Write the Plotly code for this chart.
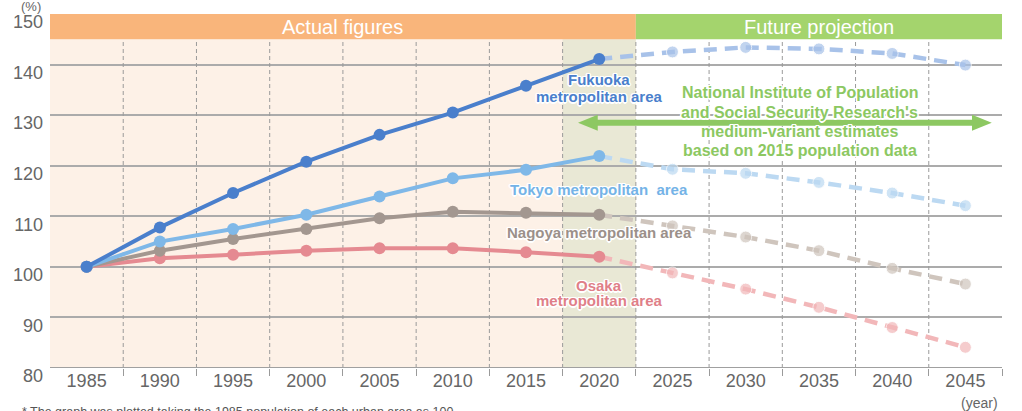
import plotly.graph_objects as go

# Population index by metropolitan area (1985 = 100)
years = [1985, 1990, 1995, 2000, 2005, 2010, 2015, 2020, 2025, 2030, 2035, 2040, 2045]
actual_years = years[:8]          # 1985-2020 census figures
future_years = years[7:]          # 2020-2045 projection (starts at last actual point)

fukuoka = [100.0, 107.8, 114.6, 120.8, 126.1, 130.5, 135.8, 141.1, 142.5, 143.4, 143.1, 142.2, 139.9]
tokyo = [100.0, 105.0, 107.5, 110.3, 113.9, 117.5, 119.2, 121.9, 119.3, 118.5, 116.7, 114.6, 112.1]
nagoya = [100.0, 103.2, 105.5, 107.5, 109.6, 110.9, 110.7, 110.3, 108.1, 105.9, 103.2, 99.7, 96.6]
osaka = [100.0, 101.7, 102.4, 103.2, 103.7, 103.7, 102.9, 102.0, 98.8, 95.6, 92.0, 88.0, 84.1]

y_ticks = [80, 90, 100, 110, 120, 130, 140, 150]

series = [
    # name, values, solid colour, projection colour
    ("Osaka", osaka, "#e58a91", "#f2b7b9"),
    ("Nagoya", nagoya, "#a39790", "#cfc5bd"),
    ("Tokyo", tokyo, "#7fb8e8", "#bcd9f2"),
    ("Fukuoka", fukuoka, "#4a7fcc", "#a8c2e9"),
]

FONT = "Arial, Liberation Sans, sans-serif"
X0, X1 = years[0] - 2.5, years[-1] + 2.5
X_SPLIT = 2022.5
BAND_LO = 145

fig = go.Figure()

# Projection segments (dashed, pale) go underneath the actual-figure lines
for name, vals, c_solid, c_proj in series:
    proj = vals[7:]
    fig.add_trace(go.Scatter(
        x=future_years, y=proj, mode="lines+markers",
        line=dict(color=c_proj, width=4.5, dash="13px,8px"),
        marker=dict(color=c_proj, size=[0] + [12] * (len(proj) - 1)),
        showlegend=False, hoverinfo="skip"))

for name, vals, c_solid, c_proj in series:
    fig.add_trace(go.Scatter(
        x=actual_years, y=vals[:8], mode="lines+markers",
        line=dict(color=c_solid, width=4),
        marker=dict(color=c_solid, size=12),
        showlegend=False, name=name))

shapes = []
# shaded backgrounds
shapes.append(dict(type="rect", xref="x", yref="y", x0=X0, x1=X_SPLIT, y0=80, y1=BAND_LO,
                   fillcolor="#fdf1e7", line_width=0, layer="below"))
shapes.append(dict(type="rect", xref="x", yref="y", x0=2017.5, x1=X_SPLIT, y0=80, y1=BAND_LO,
                   fillcolor="#e9e8d5", line_width=0, layer="below"))
# header bands
shapes.append(dict(type="rect", xref="x", yref="y", x0=X0, x1=X_SPLIT, y0=BAND_LO, y1=150,
                   fillcolor="#f9b57b", line_width=0, layer="below"))
shapes.append(dict(type="rect", xref="x", yref="y", x0=X_SPLIT, x1=X1, y0=BAND_LO, y1=150,
                   fillcolor="#a4d46d", line_width=0, layer="below"))
# dashed separators between years
for b in [y + 2.5 for y in years[:-1]]:
    shapes.append(dict(type="line", xref="x", yref="y", x0=b, x1=b, y0=80, y1=BAND_LO,
                       line=dict(color="#9a9a9a", width=1, dash="4px,3px"), layer="between"))

# green double-headed arrow for the projection note
ARROW_Y = 128.5
ax0, ax1 = 2018.55, 2046.8
head_len, head_half = 1.35, 1.6
shapes.append(dict(type="line", xref="x", yref="y", x0=ax0 + head_len * 0.6, x1=ax1 - head_len * 0.6,
                   y0=ARROW_Y, y1=ARROW_Y, line=dict(color="#8dc862", width=6), layer="above"))
shapes.append(dict(type="path", xref="x", yref="y",
                   path=f"M {ax0} {ARROW_Y} L {ax0 + head_len} {ARROW_Y + head_half} L {ax0 + head_len} {ARROW_Y - head_half} Z",
                   fillcolor="#8dc862", line_width=0, layer="above"))
shapes.append(dict(type="path", xref="x", yref="y",
                   path=f"M {ax1} {ARROW_Y} L {ax1 - head_len} {ARROW_Y + head_half} L {ax1 - head_len} {ARROW_Y - head_half} Z",
                   fillcolor="#8dc862", line_width=0, layer="above"))

HALO = ("1px 1px 0 #fff, -1px -1px 0 #fff, 1px -1px 0 #fff, -1px 1px 0 #fff, "
        "0 1.5px 0 #fff, 0 -1.5px 0 #fff, 1.5px 0 0 #fff, -1.5px 0 0 #fff")

annotations = []


def label(text, x, y, color, size=15, bold=True, shadow=HALO):
    annotations.append(dict(
        text=f"<b>{text}</b>" if bold else text, x=x, y=y, xref="x", yref="y",
        showarrow=False, xanchor="center", yanchor="middle",
        font=dict(family=FONT, size=size, color=color, shadow=shadow)))


label("Actual figures", (X0 + X_SPLIT) / 2, 147.5, "#ffffff", size=20, bold=False, shadow="none")
label("Future projection", (X_SPLIT + X1) / 2, 147.5, "#ffffff", size=20, bold=False, shadow="none")

label("Fukuoka", 2020, 137.0, "#4a7fcc")
label("metropolitan area", 2020, 133.6, "#4a7fcc")
label("Tokyo metropolitan  area", 2020, 115.2, "#74b3e7")
label("Nagoya metropolitan area", 2020, 106.7, "#9b908a")
label("Osaka", 2020, 96.4, "#e07f88")
label("metropolitan area", 2020, 93.3, "#e07f88")

note = ["National Institute of Population", "and Social Security Research's",
        "medium-variant estimates", "based on 2015 population data"]
for line, yy in zip(note, [134.4, 130.5, 126.7, 123.1]):
    label(line, 2033.7, yy, "#8cc862", size=16)

annotations.append(dict(text="(%)", x=-0.007, y=1.022, xref="paper", yref="paper",
                        showarrow=False, xanchor="right", yanchor="middle",
                        font=dict(family=FONT, size=13, color="#666")))
annotations.append(dict(text="(year)", x=2047.35, y=-0.099, xref="x", yref="paper",
                        showarrow=False, xanchor="right", yanchor="middle",
                        font=dict(family=FONT, size=14, color="#666")))
annotations.append(dict(text="* The graph was plotted taking the 1985 population of each urban area as 100.",
                        x=-0.031, y=-0.1, xref="paper", yref="paper",
                        showarrow=False, xanchor="left", yanchor="top",
                        font=dict(family=FONT, size=12.5, color="#555")))

fig.update_layout(
    width=1022, height=411,
    margin=dict(l=50, r=20, t=14, b=43, autoexpand=False),
    paper_bgcolor="#ffffff", plot_bgcolor="#ffffff",
    shapes=shapes, annotations=annotations,
    font=dict(family=FONT, color="#666"),
    xaxis=dict(range=[X0, X1], tickvals=years, ticktext=[str(y) for y in years],
               showgrid=False, zeroline=False, showline=False, ticks="", automargin=False,
               tickfont=dict(size=18, color="#666"),
               minor=dict(tickvals=[y + 2.5 for y in years], ticks="outside",
                          ticklen=7, tickcolor="#9a9a9a", tickwidth=1, showgrid=False)),
    yaxis=dict(range=[80, 150], tickvals=y_ticks, showgrid=True, gridcolor="#ababab",
               gridwidth=1.5, zeroline=False, showline=False, ticks="", automargin=False,
               ticklabelstandoff=6, ticklabelshift=8, ticklabeloverflow="allow",
               tickfont=dict(size=18, color="#666")),
)

# bottom axis line
fig.add_shape(type="line", xref="paper", yref="y", x0=0, x1=1, y0=80, y1=80,
              line=dict(color="#a0a0a0", width=2), layer="above")

fig.write_html("out.html")
